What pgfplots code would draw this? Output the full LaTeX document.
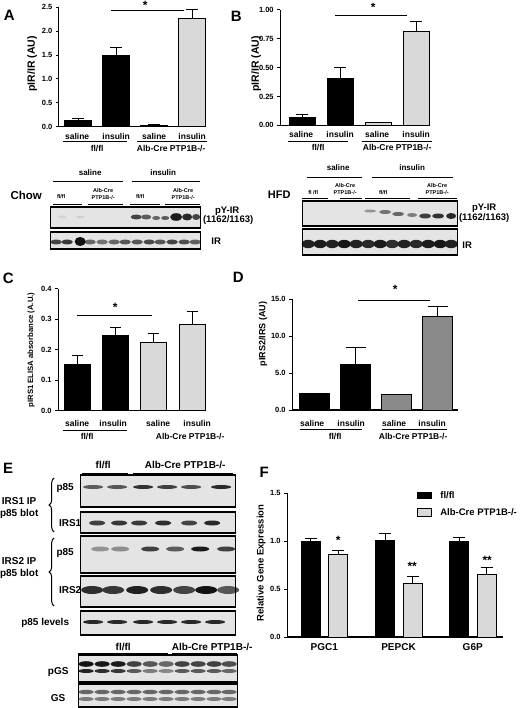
\documentclass[border=0pt]{standalone}
\usepackage{fontspec}
\setmainfont{Liberation Sans}
\usepackage{pgfplots}
\pgfplotsset{compat=1.18}
\usetikzlibrary{decorations.pathreplacing}
\definecolor{lgray}{HTML}{D9D9D9}
\definecolor{mgray}{HTML}{8A8A8A}
\definecolor{blotbg}{HTML}{E4E4E4}
\newcommand{\fs}[1]{\fontsize{#1}{#1}\selectfont\bfseries}
\newcommand{\band}[5]{\fill[black!#5!blotbg] (#1,#2) ellipse [x radius=#3, y radius=#4];}
\pgfplotsset{
  panel/.style={
    scale only axis, axis x line*=bottom, axis y line*=left,
    axis line style={line width=1.1pt}, clip=false,
    ymin=0, xtick=\empty, tick align=outside, major tick length=3pt,
    every tick/.style={black, line width=1pt},
    tick label style={font=\fs{7.5}},
    ybar, bar shift=0pt, enlargelimits=false,
  },
  yprec/.style={yticklabel style={/pgf/number format/.cd, fixed, fixed zerofill, precision=#1, assume math mode=true}},
  eb/.style={error bars/.cd, y dir=plus, y explicit, error bar style={line width=1pt,black}, error mark options={line width=1pt,black,mark size=#1,rotate=90}},
}
\begin{document}
\begin{tikzpicture}
\begin{scope}[x=1pt,y=-1pt]
\fill[white] (0,0) rectangle (520,708);
\end{scope}

% ---------- A ----------
\begin{axis}[panel, yprec=1, at={(58.7pt,-126.7pt)}, anchor=south west,
  width=147.3pt, height=119.4pt, xmin=0.49, xmax=4.37, ymax=2.5,
  ytick={0,0.5,1,1.5,2,2.5}, bar width=27pt]
\addplot[fill=black, draw=black, line width=1pt, eb=6pt] coordinates {(1,0.12) +- (0,0.05) (2,1.49) +- (0,0.16)};
\addplot[fill=lgray, draw=black, line width=1pt, eb=6pt] coordinates {(3,0.03) +- (0,0.025) (4,2.26) +- (0,0.2)};
\end{axis}

% ---------- B ----------
\begin{axis}[panel, yprec=2, at={(280pt,-125.3pt)}, anchor=south west,
  width=150pt, height=115.3pt, xmin=0.42, xmax=4.37, ymax=1,
  ytick={0,0.25,0.5,0.75,1}, bar width=26pt]
\addplot[fill=black, draw=black, line width=1pt, eb=6pt] coordinates {(1,0.07) +- (0,0.025) (2,0.41) +- (0,0.09)};
\addplot[fill=lgray, draw=black, line width=1pt, eb=6pt] coordinates {(3,0.025) (4,0.81) +- (0,0.09)};
\end{axis}

% ---------- C ----------
\begin{axis}[panel, yprec=1, at={(58pt,-410.7pt)}, anchor=south west,
  width=148pt, height=121.9pt, xmin=0.49, xmax=4.37, ymax=0.4,
  ytick={0,0.1,0.2,0.3,0.4}, bar width=26pt]
\addplot[fill=black, draw=black, line width=1pt, eb=5.5pt] coordinates {(1,0.153) +- (0,0.027) (2,0.248) +- (0,0.025)};
\addplot[fill=lgray, draw=black, line width=1pt, eb=5.5pt] coordinates {(3,0.223) +- (0,0.03) (4,0.283) +- (0,0.043)};
\end{axis}

% ---------- D ----------
\begin{axis}[panel, yprec=1, at={(292pt,-410pt)}, anchor=south west,
  width=166pt, height=111pt, xmin=0.45, xmax=4.5, ymax=15,
  ytick={0,5,10,15}, bar width=30pt]
\addplot[fill=black, draw=black, line width=1pt, eb=10pt] coordinates {(1,2.2) +- (0,0.05) (2,6.2) +- (0,2.3)};
\addplot[fill=mgray, draw=black, line width=1pt, eb=10pt] coordinates {(3,2.15) (4,12.6) +- (0,1.4)};
\end{axis}

% ---------- F ----------
\begin{axis}[panel, yprec=1, at={(287pt,-637pt)}, anchor=south west,
  width=216pt, height=144pt, xmin=0.5, xmax=3.41, ymax=1.5,
  ytick={0,0.5,1,1.5}, bar width=19pt,
  xtick={1,2,3}, xticklabels={PGC1,PEPCK,G6P}, xtick style={draw=none},
  xticklabel style={font=\fs{10}}]
\addplot[fill=black, draw=black, line width=1pt, bar shift=-13.5pt, eb=6pt] coordinates {(1,1.0) +- (0,0.03) (2,1.01) +- (0,0.065) (3,1.0) +- (0,0.035)};
\addplot[fill=lgray, draw=black, line width=1pt, bar shift=14pt, eb=6pt] coordinates {(1,0.86) +- (0,0.04) (2,0.56) +- (0,0.075) (3,0.65) +- (0,0.07)};
\end{axis}

\begin{scope}[x=1pt,y=-1pt, every node/.style={inner sep=0pt, font=\fs{8.5}}]
% panel letters
\node[font=\fs{15}] at (9,15) {A};
\node[font=\fs{15}] at (236,16) {B};
\node[font=\fs{15}] at (8,278) {C};
\node[font=\fs{15}] at (238,277) {D};
\node[font=\fs{15}] at (8,468) {E};
\node[font=\fs{15}] at (264,472) {F};

% A annotations
\node[rotate=90, font=\fs{10.5}] at (32,64) {pIR/IR (AU)};
\draw[line width=1pt] (111,10.7) -- (184,10.7);
\node[anchor=north, font=\fs{12}] at (145,1) {*};
\node at (77,136) {saline}; \node at (116,136) {insulin};
\node at (154,136) {saline}; \node at (192,136) {insulin};
\draw[line width=0.9pt] (63,141.5) -- (127,141.5);
\draw[line width=0.9pt] (137,141.5) -- (207,141.5);
\node at (97,148.5) {fl/fl}; \node at (171,148.5) {Alb-Cre PTP1B-/-};

% B annotations
\node[rotate=90, font=\fs{10.5}] at (256,64) {pIR/IR (AU)};
\draw[line width=1pt] (335,15.7) -- (407,15.7);
\node[anchor=north, font=\fs{12}] at (373,3) {*};
\node at (301,134) {saline}; \node at (340,134) {insulin};
\node at (377,134) {saline}; \node at (416,134) {insulin};
\draw[line width=0.9pt] (288,141) -- (348,141);
\draw[line width=0.9pt] (362,141) -- (432,141);
\node at (318,148) {fl/fl}; \node at (397,148) {Alb-Cre PTP1B-/-};

% ---- Chow blot ----
\node[font=\fs{11.5}] at (26,195) {Chow};
\node[font=\fs{8}] at (90,173) {saline}; \draw[line width=0.9pt] (53,181) -- (123,181);
\node[font=\fs{8}] at (163,173) {insulin}; \draw[line width=0.9pt] (132,181) -- (200,181);
\node[font=\fs{5.5}] at (61,197) {fl/fl};
\node[font=\fs{5.5}, align=center] at (103,194) {Alb-Cre\\[1pt]PTP1B-/-};
\node[font=\fs{5.5}] at (140,197) {fl/fl};
\node[font=\fs{5.5}, align=center] at (183,194) {Alb-Cre\\[1pt]PTP1B-/-};
\foreach \a/\b in {53/82,88/123,130/160,165/200} {\draw[line width=0.8pt] (\a,204) -- (\b,204);}
\fill[blotbg] (50,207) rectangle (200,228);
\band{62}{217}{4}{1.5}{8}\band{80}{217}{4}{1.5}{8}
\band{136}{217}{5.5}{2.5}{70}\band{146}{217}{5}{2.5}{60}\band{156}{218}{4}{2}{55}
\band{165}{218}{4}{2}{60}\band{176}{217}{6}{3.8}{88}\band{187}{217}{5}{3.5}{82}\band{196}{217}{4}{3}{70}
\draw[line width=1.2pt] (50,207) rectangle (200,228);
\fill[blotbg] (50,232) rectangle (200,249);
\foreach \x/\d in {56/70,67/75,90/55,102/50,114/55,125/62,137/62,149/68,160/62,172/70,184/66,195/58} {\band{\x}{242}{5.8}{2.4}{\d}}
\band{80}{241.5}{5.5}{4.5}{92}
\draw[line width=1.2pt] (50,232) rectangle (200,249);
\node[font=\fs{9.5}] at (227,211) {pY-IR};
\node[font=\fs{9.5}] at (228,220) {(1162/1163)};
\node[font=\fs{9.5}] at (216,241) {IR};

% ---- HFD blot ----
\node[font=\fs{11}] at (279,195) {HFD};
\node[font=\fs{8}] at (338,168) {saline}; \draw[line width=0.9pt] (307,177) -- (362,177);
\node[font=\fs{8}] at (412,168) {insulin}; \draw[line width=0.9pt] (372,177) -- (453,177);
\node[font=\fs{5.5}] at (313,193) {fl /fl};
\node[font=\fs{5.5}, align=center] at (345,189) {Alb-Cre\\[1pt]PTP1B-/-};
\node[font=\fs{5.5}] at (383,193) {fl/fl};
\node[font=\fs{5.5}, align=center] at (437,189) {Alb-Cre\\[1pt]PTP1B-/-};
\foreach \a/\b in {302/328,340/362,365/410,418/457} {\draw[line width=0.8pt] (\a,198.5) -- (\b,198.5);}
\fill[blotbg] (302,201) rectangle (457,226);
\band{370}{211}{6}{1.5}{35}\band{385}{212}{6}{2}{50}\band{398}{214}{6}{2}{55}\band{412}{215}{5}{2}{45}
\band{425}{216}{6}{2.5}{72}\band{438}{216}{6}{2.5}{78}\band{451}{216}{5}{3}{82}
\draw[line width=1.2pt] (302,201) rectangle (457,226);
\fill[blotbg] (302,229) rectangle (457,255);
\foreach \x/\d in {308/85,320/88,332/85,344/90,356/85,368/82,380/88,392/80,404/85,416/82,428/88,440/90,451/85} {\band{\x}{244}{6.5}{4.2}{\d}}
\draw[line width=1.2pt] (302,229) rectangle (457,255);
\node[font=\fs{9.5}] at (484,208) {pY-IR};
\node[font=\fs{9.5}] at (484,218) {(1162/1163)};
\node[font=\fs{9.5}] at (467,245) {IR};

% C annotations
\node[rotate=90, font=\fs{7.7}] at (31,350) {pIRS1 ELISA absorbance (A.U.)};
\draw[line width=1pt] (77,315.7) -- (152,315.7);
\node[anchor=north, font=\fs{12}] at (115,303) {*};
\node at (77,423) {saline}; \node at (113,423) {insulin};
\node at (158,423) {saline}; \node at (197,423) {insulin};
\draw[line width=0.9pt] (63,430) -- (127,430);
\node at (87,437) {fl/fl}; \node at (190,437) {Alb-Cre PTP1B-/-};

% D annotations
\node[rotate=90, font=\fs{9}] at (263,334) {pIRS2/IRS (AU)};
\draw[line width=1pt] (358,300) -- (430,300);
\node[anchor=north, font=\fs{12}] at (395,285) {*};
\node at (312,423) {saline}; \node at (351,423) {insulin};
\node at (394,423) {saline}; \node at (432,423) {insulin};
\draw[line width=0.9pt] (300,429) -- (362,429);
\draw[line width=0.9pt] (382,429) -- (447,429);
\node at (335,437) {fl/fl}; \node at (413,437) {Alb-Cre PTP1B-/-};

% F annotations
\node[rotate=90, font=\fs{9.5}] at (261,563) {Relative Gene Expression};
\node[anchor=north, font=\fs{12}] at (338,536) {*};
\node[anchor=north, font=\fs{12}] at (412,562) {**};
\node[anchor=north, font=\fs{12}] at (487,556) {**};
\fill[black] (417,491.7) rectangle (431.7,499.3);
\draw[line width=1pt, fill=lgray] (417,508) rectangle (431.7,516);
\node[anchor=west, font=\fs{9.5}] at (440,495.5) {fl/fl};
\node[anchor=west, font=\fs{9.5}] at (440,512) {Alb-Cre PTP1B-/-};

% ---- E blots ----
\node[font=\fs{10}] at (103,465) {fl/fl}; \draw[line width=0.9pt] (82,473) -- (128,473);
\node[font=\fs{10}] at (185,465) {Alb-Cre PTP1B-/-}; \draw[line width=0.9pt] (133,473) -- (233,473);
% p85 (IRS1 IP)
\fill[blotbg] (80,475) rectangle (235,507);
\foreach \x/\d in {93/60,117/62,143/78,167/72,191/66,221/82} {\band{\x}{487}{10}{2}{\d}}
\draw[line width=1.2pt] (80,475) rectangle (235,507);
% IRS1
\fill[blotbg] (80,512) rectangle (235,533);
\foreach \x/\d in {97/72,119/76,139/74,163/80,189/70,212/82} {\band{\x}{523}{8}{2.5}{\d}}
\draw[line width=1.2pt] (80,512) rectangle (235,533);
% p85 (IRS2 IP)
\fill[blotbg] (80,536) rectangle (235,573);
\foreach \x/\d in {100/35,120/38,150/72,175/60,200/88,226/72} {\band{\x}{549}{9}{2.5}{\d}}
\draw[line width=1.2pt] (80,536) rectangle (235,573);
% IRS2
\fill[blotbg] (80,576) rectangle (235,607);
\foreach \x/\d in {92/80,113/76,137/86,161/80,184/70,206/92,228/62} {\band{\x}{590}{11}{4}{\d}}
\draw[line width=1.2pt] (80,576) rectangle (235,607);
% p85 levels
\fill[blotbg] (80,611) rectangle (235,635);
\foreach \x/\d in {93/82,117/82,143/82,167/82,191/82,215/82} {\band{\x}{622}{10}{2}{\d}}
\draw[line width=1.2pt] (80,611) rectangle (235,635);
\node[font=\fs{10}] at (65,488) {p85};
\node[font=\fs{10}] at (70,523) {IRS1};
\node[font=\fs{10}] at (65,553) {p85};
\node[font=\fs{10}] at (70,590) {IRS2};
\node[font=\fs{10}] at (45,623) {p85 levels};
\node[font=\fs{10}, align=center] at (19,508) {IRS1 IP\\[2pt]p85 blot};
\node[font=\fs{10}, align=center] at (19,568) {IRS2 IP\\[2pt]p85 blot};
\draw[line width=1pt, decorate, decoration={brace, amplitude=5pt}] (54,532) -- (54,478);
\draw[line width=1pt, decorate, decoration={brace, amplitude=5pt}] (54,606) -- (54,538);
% GS blots
\node[font=\fs{10}] at (123,647) {fl/fl}; \draw[line width=0.9pt] (78,653) -- (168,653);
\node[font=\fs{10}] at (212,647) {Alb-Cre PTP1B-/-}; \draw[line width=0.9pt] (172,653) -- (237,653);
\fill[blotbg] (78,655) rectangle (237,682);
\foreach \x/\d/\e in {86/92/85,102/90/80,118/88/75,134/72/60,150/62/45,166/55/40,182/72/60,198/70/60,214/72/60,229/66/55} {\band{\x}{664}{7.5}{2.8}{\d}\band{\x}{671}{7.5}{2}{\e}}
\draw[line width=1.2pt] (78,655) rectangle (237,682);
\fill[blotbg] (78,684) rectangle (237,707);
\foreach \x in {86,102,118,134,150,166,182,198,214,229} {\band{\x}{692}{7.5}{2.2}{55}\band{\x}{699}{7.5}{2}{45}}
\draw[line width=1.2pt] (78,684) rectangle (237,707);
\node[font=\fs{10}] at (58,672) {pGS};
\node[font=\fs{10}] at (58,698) {GS};
\end{scope}
\end{tikzpicture}
\end{document}
